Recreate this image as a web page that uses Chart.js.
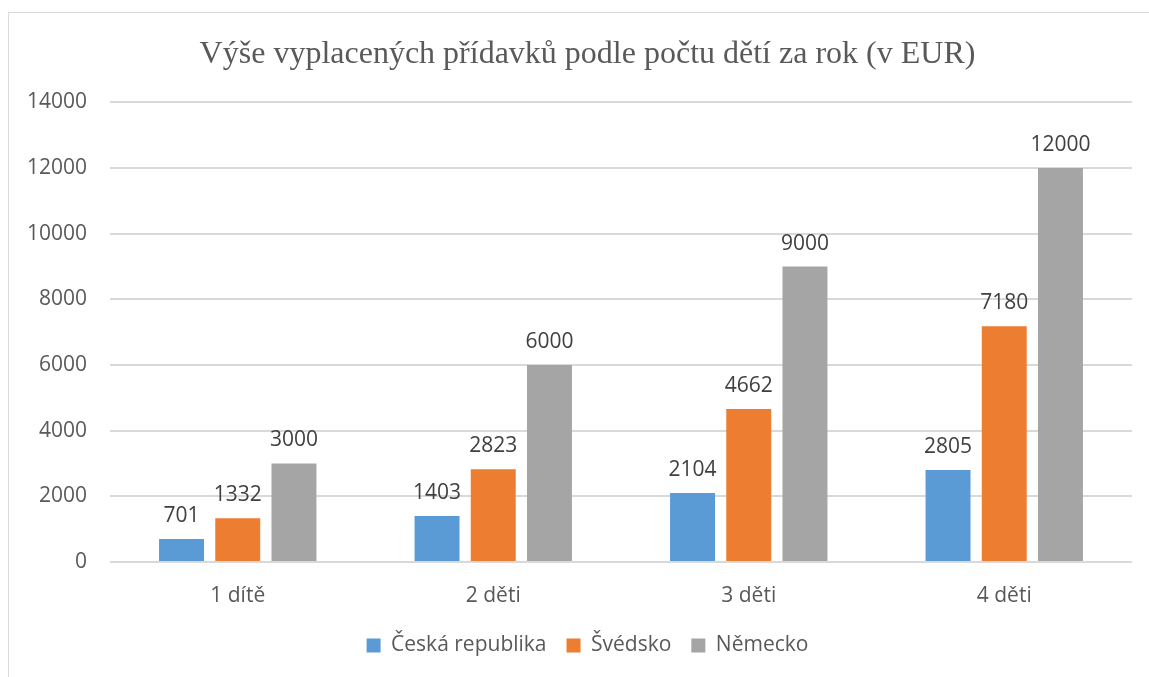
<!DOCTYPE html>
<html><head><meta charset="utf-8">
<script src="https://cdn.jsdelivr.net/npm/chart.js@4/dist/chart.umd.min.js"></script>
<style>
html,body{margin:0;padding:0;background:#fff;overflow:hidden;}
#wrap{position:relative;width:1149px;height:677px;}
#frame{position:absolute;left:8px;top:12px;width:2000px;height:2000px;border:1px solid #d9d9d9;box-sizing:border-box;}
canvas{position:absolute;left:0;top:0;}
</style></head>
<body>
<div id="wrap"><div id="frame"></div><canvas id="c" width="1149" height="677"></canvas></div>
<script>
const categories = ['1 dítě', '2 děti', '3 děti', '4 děti'];
const ceskaRepublika = [701, 1403, 2104, 2805];
const svedsko = [1332, 2823, 4662, 7180];
const nemecko = [3000, 6000, 9000, 12000];
const seriesNames = ['Česká republika', 'Švédsko', 'Německo'];
const yTicks = [0, 2000, 4000, 6000, 8000, 10000, 12000, 14000];
const titleText = 'Výše vyplacených přídavků podle počtu dětí za rok (v EUR)';

const sans = '"Open Sans", sans-serif';

const dataLabels = {
  id: 'dataLabels',
  afterDatasetsDraw(chart) {
    const ctx = chart.ctx;
    ctx.save();
    ctx.font = '21px ' + sans;
    ctx.fillStyle = '#404040';
    ctx.textAlign = 'center';
    ctx.textBaseline = 'middle';
    chart.data.datasets.forEach((ds, i) => {
      chart.getDatasetMeta(i).data.forEach((bar, j) => {
        ctx.fillText(String(ds.data[j]), bar.x, bar.y - 23);
      });
    });
    ctx.restore();
  }
};

// centre title and legend over the whole frame (as in the original)
const shiftBlocks = {
  id: 'shiftBlocks',
  afterLayout(chart) {
    if (chart.titleBlock) chart.titleBlock.left += 43;
    if (chart.legend) chart.legend.left += 43;
  }
};

new Chart(document.getElementById('c'), {
  type: 'bar',
  data: {
    labels: categories,
    datasets: [
      {label: seriesNames[0], data: ceskaRepublika, backgroundColor: '#5B9BD5'},
      {label: seriesNames[1], data: svedsko, backgroundColor: '#ED7D31'},
      {label: seriesNames[2], data: nemecko, backgroundColor: '#A5A5A5'}
    ]
  },
  options: {
    responsive: false,
    animation: false,
    devicePixelRatio: 1,
    categoryPercentage: 0.66,
    barPercentage: 0.8,
    layout: {padding: {left: 0, right: 17, top: 0, bottom: 11}},
    plugins: {
      title: {
        display: true, text: titleText, color: '#595959',
        font: {family: '"Liberation Serif", serif', size: 32, weight: 'normal'},
        padding: {top: 35, bottom: 29}
      },
      legend: {
        position: 'bottom',
        labels: {
          color: '#595959', font: {family: sans, size: 21},
          boxWidth: 14, boxHeight: 14, padding: 20
        }
      },
      tooltip: {enabled: false}
    },
    scales: {
      x: {
        afterFit: (s) => { s.height = 53; },
        grid: {display: false, drawTicks: false},
        border: {display: false},
        ticks: {color: '#595959', font: {family: sans, size: 21}, padding: 21}
      },
      y: {
        min: 0, max: 14000,
        afterBuildTicks: (s) => { s.ticks = yTicks.map(v => ({value: v})); },
        afterFit: (s) => { s.width = 110; },
        grid: {color: '#d9d9d9', lineWidth: 2, drawTicks: false},
        border: {display: false},
        ticks: {color: '#595959', font: {family: sans, size: 21}, padding: 23,
                callback: (v) => String(v)}
      }
    }
  },
  plugins: [dataLabels, shiftBlocks]
});
</script>
</body></html>
